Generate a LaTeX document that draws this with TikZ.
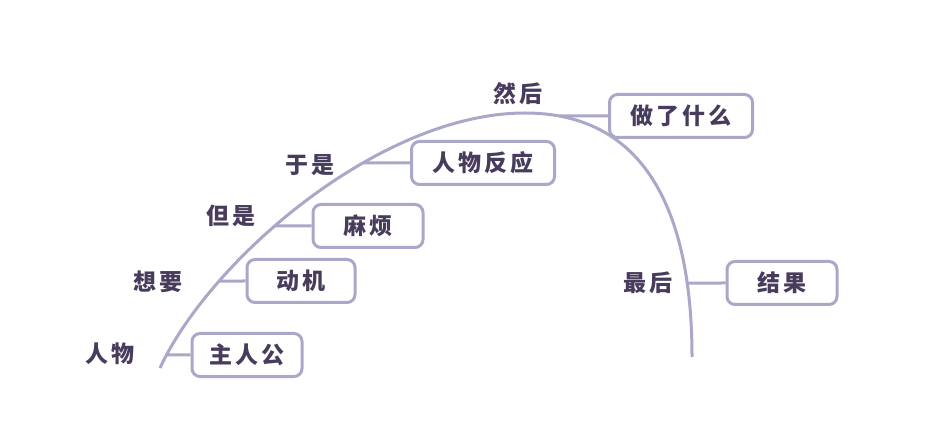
\documentclass[tikz,border=0pt]{standalone}
\usepackage{fontspec}
\newfontfamily\cjk{Noto Sans CJK SC}[LetterSpace=12]
\usetikzlibrary{intersections}
\definecolor{linec}{RGB}{170,168,200}
\definecolor{textc}{RGB}{72,60,92}
\begin{document}
\begin{tikzpicture}[x=1pt,y=-1pt,
  lin/.style={draw=linec,line width=3pt},
  box/.style={draw=linec,line width=3pt,rounded corners=8pt,fill=white,
    minimum height=43pt,inner sep=0pt,text=textc,font=\cjk\fontsize{23}{26}\selectfont\bfseries},
  lab/.style={text=textc,inner sep=0pt,font=\cjk\fontsize{23}{26}\selectfont\bfseries}]
\path[fill=white] (0,0) rectangle (934,427);
\useasboundingbox (0,0) rectangle (934,427);
% main arc
\draw[lin,name path=arcL] (160,368) .. controls (210,260) and (380,113) .. (525,113);
\draw[lin,name path=arcR] (525,113) .. controls (650,113) and (692,220) .. (692,357);
% boxes
\node[box,minimum width=110pt] (b1) at (247,355) {主人公};
\node[box,minimum width=108pt] (b2) at (301,281) {动机};
\node[box,minimum width=110pt] (b3) at (368,226) {麻烦};
\node[box,minimum width=143pt] (b4) at (483,163) {人物反应};
\node[box,minimum width=143pt] (b5) at (681,116) {做了什么};
\node[box,minimum width=110pt] (b6) at (782,283) {结果};
% labels
\node[lab] (l1) at (110,354) {人物};
\node[lab] (l2) at (158,282) {想要};
\node[lab] (l3) at (231,216) {但是};
\node[lab] (l4) at (310,165) {于是};
\node[lab] (l5) at (518,94) {然后};
\node[lab] (l6) at (648,283) {最后};
% connectors
\path[name path=h1] (b1.west) -- ++(-60,0);
\path[name path=h2] (b2.west) -- ++(-60,0);
\path[name path=h3] (b3.west) -- ++(-60,0);
\path[name path=h4] (b4.west) -- ++(-60,0);
\path[name path=h5] (b5.west) -- ++(-60,0);
\path[name path=h6] (b6.west) -- ++(-60,0);
\path[name intersections={of=arcL and h1,by={c1}}];
\path[name intersections={of=arcL and h2,by={c2}}];
\path[name intersections={of=arcL and h3,by={c3}}];
\path[name intersections={of=arcL and h4,by={c4}}];
\path[name intersections={of=arcR and h5,by={c5}}];
\path[name intersections={of=arcR and h6,by={c6}}];
\draw[lin] (c1) -- (b1.west);
\draw[lin] (c2) -- (b2.west);
\draw[lin] (c3) -- (b3.west);
\draw[lin] (c4) -- (b4.west);
\draw[lin] (c5) -- (b5.west);
\draw[lin] (c6) -- (b6.west);
\end{tikzpicture}
\end{document}
